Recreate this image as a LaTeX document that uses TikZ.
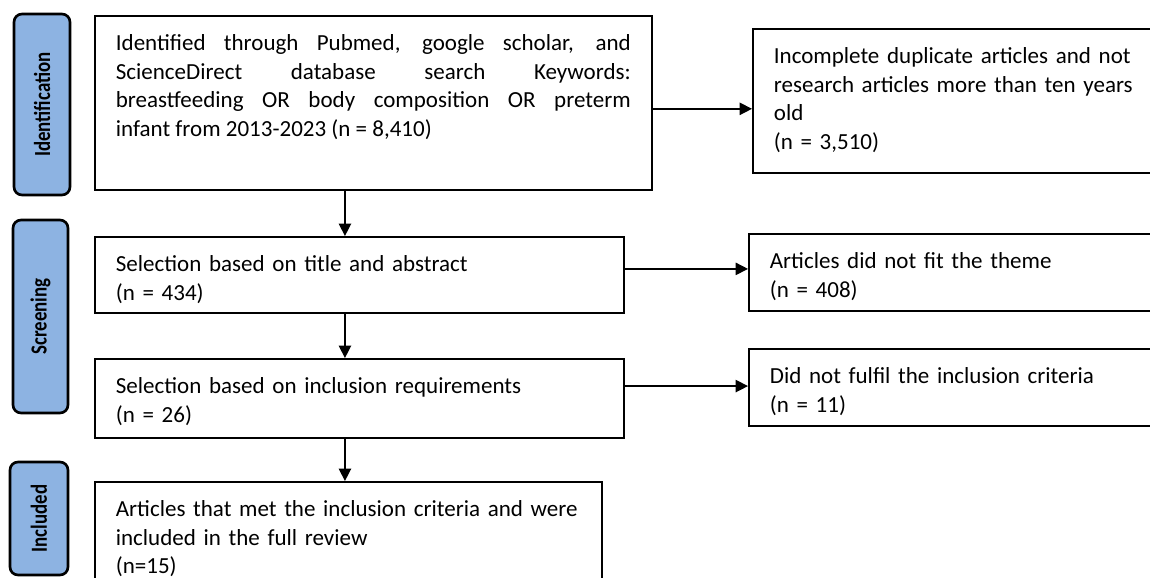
\documentclass[tikz,border=0pt]{standalone}
\usepackage{fontspec}
\setmainfont{Carlito}
\newfontfamily\phasefont[FakeStretch=0.82]{Carlito}
\usetikzlibrary{arrows.meta}
\definecolor{phaseblue}{RGB}{141,179,226}

\begin{document}
\begin{tikzpicture}[x=0.02cm, y=-0.02cm,
	stage/.style={draw, line width=1pt, anchor=north west, inner xsep=0.42cm, inner ysep=0.36cm, text height=0.34cm, align=left, font=\fontsize{13.1pt}{16.2pt}\selectfont},
	phase/.style={draw, line width=1.5pt, fill=phaseblue, rounded corners=0.16cm, rotate=90, inner sep=0pt, font=\phasefont\bfseries\fontsize{13.1pt}{15pt}\selectfont},
	flow/.style={line width=0.8pt, -{Triangle[length=7pt, width=7pt]}}]
	\useasboundingbox (0,0) rectangle (1150,578);
	\clip (0,0) rectangle (1150,578);
	% phases on the left
	\node[phase, minimum width=3.62cm, minimum height=1.12cm] (ident) at (42,104.5) {Identification};
	\node[phase, minimum width=3.86cm, minimum height=1.1cm] (screen) at (40.5,316.5) {Screening};
	\node[phase, minimum width=2.26cm, minimum height=1.16cm] (incl) at (39,518.5) {Included};
	% main column
	\node[stage, text width=10.3cm, text depth=2.42cm, align=justify] (records) at (94,15) {Identified through Pubmed, google scholar, and\linebreak ScienceDirect database search Keywords:\linebreak breastfeeding OR body composition OR preterm\linebreak infant from 2013-2023 (n = 8,410)};
	\node[stage, text width=9.74cm, text depth=0.46cm] (titleabs) at (94,236) {Selection based on title and abstract\\(n = 434)};
	\node[stage, text width=9.74cm, text depth=0.52cm] (inclreq) at (94,358) {Selection based on inclusion requirements\\(n = 26)};
	\node[stage, text width=9.3cm, text depth=1.32cm] (final) at (94,481) {Articles that met the inclusion criteria and were\\included in the full review\\(n=15)};
	% excluded, right column
	\node[stage, text width=8.5cm, text depth=1.82cm] (dup) at (752,28) {Incomplete duplicate articles and not\\research articles more than ten years\\old\\(n = 3,510)};
	\node[stage, text width=8.5cm, text depth=0.48cm] (offtheme) at (748,233) {Articles did not fit the theme\\(n = 408)};
	\node[stage, text width=8.5cm, text depth=0.48cm] (unmet) at (748,348) {Did not fulfil the inclusion criteria\\(n = 11)};
	% arrows
	\draw[flow] ([xshift=5.02cm]records.south west) -- ([xshift=5.02cm]titleabs.north west);
	\draw[flow] ([xshift=5.02cm]titleabs.south west) -- ([xshift=5.02cm]inclreq.north west);
	\draw[flow] ([xshift=5.02cm]inclreq.south west) -- ([xshift=5.02cm]final.north west);
	\draw[flow] ([yshift=-3.4pt]records.east) coordinate (r1) -- (r1 -| dup.west);
	\draw[flow] ([yshift=3.4pt]titleabs.east) coordinate (r2) -- (r2 -| offtheme.west);
	\draw[flow] ([yshift=7pt]inclreq.east) coordinate (r3) -- (r3 -| unmet.west);
\end{tikzpicture}
\end{document}
